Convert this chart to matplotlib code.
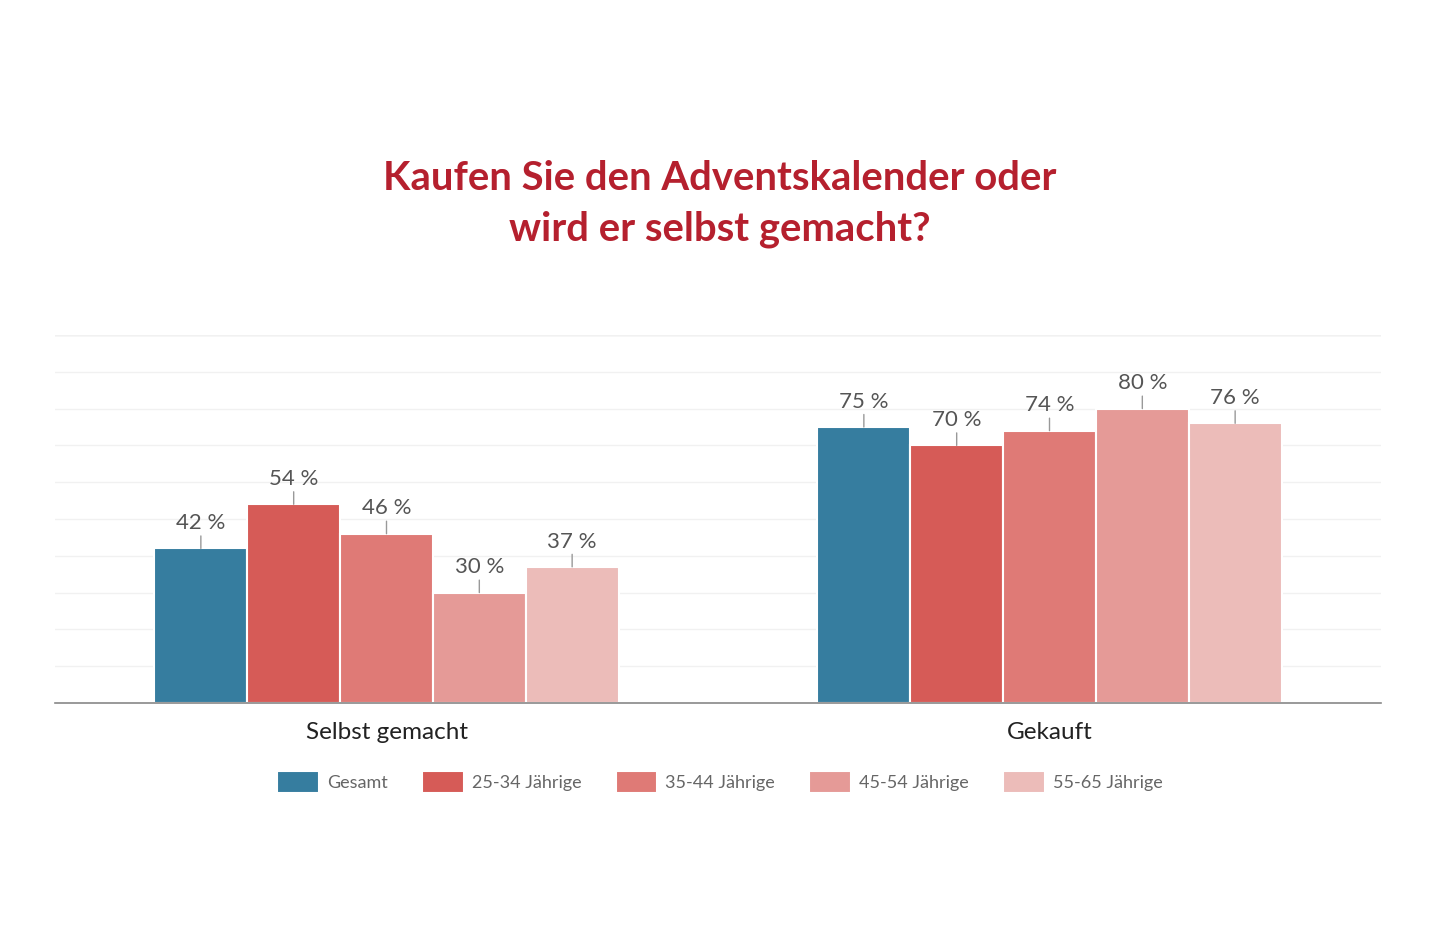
import matplotlib
matplotlib.use("Agg")
import matplotlib.pyplot as plt
import numpy as np

# Umfrage: Adventskalender gekauft oder selbst gemacht
categories = ["Selbst gemacht", "Gekauft"]
series_names = ["Gesamt", "25-34 Jährige", "35-44 Jährige", "45-54 Jährige", "55-65 Jährige"]
gesamt = [42, 75]
alter_25_34 = [54, 70]
alter_35_44 = [46, 74]
alter_45_54 = [30, 80]
alter_55_65 = [37, 76]

series_values = [gesamt, alter_25_34, alter_35_44, alter_45_54, alter_55_65]
colors = ["#367d9f", "#d65b57", "#df7a76", "#e59a97", "#ecbcb9"]

plt.rcParams["font.family"] = ["Lato", "DejaVu Sans"]

fig = plt.figure(figsize=(14.4, 9.4), dpi=100)
ax = fig.add_axes([55 / 1440, (940 - 703) / 940, (1381 - 55) / 1440, (703 - 335) / 940])

x = np.arange(len(categories))
group_width = 0.7
bar_w = group_width / len(series_names)

for i, (name, vals, col) in enumerate(zip(series_names, series_values, colors)):
    pos = x - group_width / 2 + bar_w * (i + 0.5)
    ax.bar(pos, vals, width=bar_w, color=col, edgecolor="white", linewidth=1.5,
           label=name, zorder=3)
    for px, v in zip(pos, vals):
        ax.annotate(f"{v} %", xy=(px, v), xytext=(0, 11), textcoords="offset points",
                    ha="center", va="bottom", fontsize=16, color="#555555",
                    arrowprops=dict(arrowstyle="-", color="#999999", lw=1,
                                    shrinkA=0, shrinkB=0), zorder=4)

ax.set_xlim(-0.5, 1.5)
ax.set_ylim(0, 100)
ax.set_yticks(np.arange(0, 101, 10))
ax.yaxis.grid(True, color="#f1f1f1", linewidth=1, zorder=0)
ax.axhline(100, color="#dddddd", linewidth=1, zorder=1)
ax.tick_params(axis="y", left=False, labelleft=False)
ax.set_xticks(x)
ax.set_xticklabels(categories, fontsize=17.5, color="#222222")
ax.tick_params(axis="x", length=0, pad=14)

for side in ["top", "right", "left"]:
    ax.spines[side].set_visible(False)
ax.spines["bottom"].set_color("#888888")
ax.spines["bottom"].set_linewidth(1.2)
ax.spines["bottom"].set_zorder(5)

fig.text(0.5, 1 - 204 / 940, "Kaufen Sie den Adventskalender oder\nwird er selbst gemacht?",
         ha="center", va="center", fontsize=28.8, fontweight="bold", color="#b5202e",
         linespacing=1.42)

leg = fig.legend(loc="center", bbox_to_anchor=(0.5, 1 - 782 / 940), ncol=5, frameon=False,
                 fontsize=13, handlelength=2.3, handleheight=1.55, handletextpad=0.45,
                 columnspacing=1.9)
for t in leg.get_texts():
    t.set_color("#666666")

fig.savefig("out.png", dpi=100, facecolor="white")
